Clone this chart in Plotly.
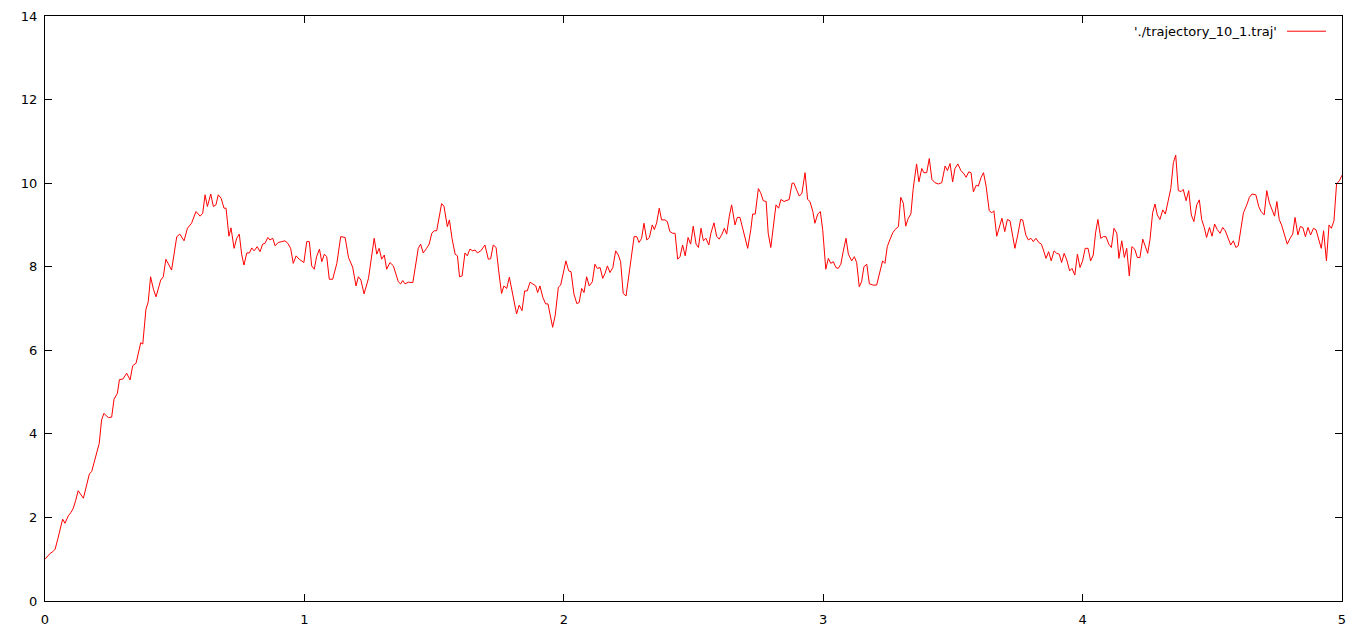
import plotly.graph_objects as go

t = [0.000, 0.010, 0.020, 0.030, 0.039, 0.050, 0.060, 0.068, 0.077, 0.090, 0.100, 0.109, 0.118, 0.128,
     0.148, 0.160, 0.171, 0.180, 0.190, 0.200, 0.209, 0.218, 0.227, 0.244, 0.257, 0.266, 0.279, 0.287,
     0.300, 0.315, 0.328, 0.338, 0.351, 0.369, 0.377, 0.389, 0.398, 0.407, 0.418, 0.428, 0.446, 0.456,
     0.466, 0.488, 0.508, 0.520, 0.536, 0.549, 0.565, 0.582, 0.598,
     0.608, 0.617, 0.626, 0.639, 0.649, 0.659, 0.668, 0.679, 0.690, 0.698, 0.709, 0.717, 0.729, 0.739,
     0.749, 0.758, 0.767, 0.778, 0.788, 0.797, 0.806, 0.818, 0.829, 0.839, 0.848, 0.859, 0.867, 0.878,
     0.887, 0.899, 0.912, 0.925, 0.936, 0.947, 0.957, 0.968, 0.980, 0.990, 0.998, 1.009, 1.019, 1.028,
     1.038, 1.047, 1.058, 1.067, 1.077, 1.086, 1.096, 1.109, 1.125, 1.140, 1.157, 1.170, 1.186, 1.199,
     1.208, 1.218, 1.230, 1.247, 1.258, 1.269, 1.279, 1.288, 1.298, 1.308, 1.317, 1.330, 1.343, 1.353,
     1.362, 1.371, 1.379, 1.388, 1.401, 1.418, 1.430, 1.439, 1.448, 1.458, 1.471, 1.481, 1.491, 1.500,
     1.510, 1.519, 1.529, 1.538, 1.551, 1.559, 1.569, 1.581, 1.590, 1.598, 1.608, 1.619, 1.628, 1.638,
     1.649, 1.658, 1.667, 1.680, 1.696, 1.709, 1.718, 1.728, 1.739, 1.749, 1.760, 1.769, 1.780, 1.790,
     1.800, 1.818, 1.828, 1.839, 1.849, 1.859, 1.870, 1.882, 1.892, 1.899, 1.908, 1.919, 1.930, 1.939,
     1.957, 1.967, 1.979, 1.988, 1.998, 2.008, 2.019, 2.028, 2.039, 2.050, 2.059, 2.069, 2.078, 2.088,
     2.098, 2.110, 2.120, 2.129, 2.140, 2.150, 2.159, 2.168, 2.178, 2.189, 2.200, 2.210, 2.219, 2.229,
     2.240, 2.253, 2.262, 2.271, 2.281, 2.290, 2.300, 2.309, 2.320, 2.330, 2.341, 2.349, 2.358, 2.368,
     2.377, 2.390, 2.399, 2.409, 2.420, 2.429, 2.439, 2.448, 2.458, 2.468, 2.479, 2.489, 2.499, 2.510,
     2.519, 2.529, 2.538, 2.548, 2.559, 2.567, 2.579, 2.589, 2.599, 2.610, 2.619, 2.628, 2.638, 2.647,
     2.660, 2.669, 2.679, 2.692, 2.709, 2.721, 2.728, 2.738, 2.750, 2.759, 2.769, 2.780, 2.788, 2.798,
     2.808, 2.818, 2.828, 2.837, 2.849, 2.859, 2.869, 2.880, 2.887, 2.898, 2.908, 2.918, 2.930, 2.940,
     2.949, 2.960, 2.968, 2.979, 2.989, 2.998, 3.010, 3.020, 3.029, 3.039, 3.049, 3.058, 3.068, 3.077,
     3.088, 3.097, 3.110, 3.120, 3.129, 3.139, 3.148, 3.157, 3.168, 3.178, 3.193, 3.206, 3.219, 3.229,
     3.238, 3.247, 3.258, 3.268, 3.277, 3.290, 3.299, 3.309, 3.318, 3.328, 3.338, 3.347, 3.360, 3.369,
     3.380, 3.388, 3.399, 3.409, 3.419, 3.431, 3.444, 3.457, 3.470, 3.479, 3.489, 3.499, 3.508, 3.519,
     3.531, 3.543, 3.551, 3.561, 3.570, 3.579, 3.590, 3.598, 3.609, 3.618, 3.628, 3.640, 3.650, 3.658,
     3.669, 3.679, 3.689, 3.700, 3.710, 3.720, 3.730, 3.739, 3.750, 3.761, 3.769, 3.781, 3.791, 3.801,
     3.810, 3.820, 3.831, 3.841, 3.849, 3.859, 3.869, 3.879, 3.890, 3.900, 3.910, 3.919, 3.929, 3.939,
     3.950, 3.959, 3.970, 3.980, 3.990, 4.000, 4.010, 4.021, 4.031, 4.041, 4.050, 4.059, 4.070, 4.080,
     4.090, 4.101, 4.111, 4.121, 4.132, 4.140, 4.151, 4.161, 4.170, 4.180, 4.190, 4.201, 4.211, 4.221,
     4.232, 4.240, 4.251, 4.260, 4.270, 4.279, 4.288, 4.298, 4.309, 4.319, 4.331, 4.340, 4.350, 4.359,
     4.369, 4.380, 4.388, 4.399, 4.409, 4.419, 4.429, 4.440, 4.450, 4.459, 4.469, 4.478, 4.489, 4.499,
     4.509, 4.519, 4.530, 4.540, 4.550, 4.560, 4.571, 4.581, 4.591, 4.600, 4.611, 4.620, 4.633, 4.643,
     4.653, 4.668, 4.679, 4.688, 4.700, 4.710, 4.720, 4.730, 4.740, 4.749, 4.758, 4.767, 4.778, 4.789,
     4.800, 4.810, 4.819, 4.830, 4.839, 4.849, 4.859, 4.869, 4.879, 4.890, 4.900, 4.910, 4.920, 4.929,
     4.940, 4.950, 4.959, 4.969, 4.979, 4.990, 5.000]

traj = [1.00, 1.08, 1.14, 1.18, 1.24, 1.50, 1.78, 1.96, 1.86, 2.04, 2.12, 2.22, 2.40, 2.64,
        2.46, 2.80, 3.04, 3.10, 3.35, 3.55, 3.77, 4.33, 4.49, 4.39, 4.40, 4.83, 4.97, 5.30,
        5.31, 5.45, 5.29, 5.63, 5.69, 6.18, 6.15, 6.98, 7.16, 7.76, 7.46, 7.28, 7.68, 7.76,
        8.18, 7.92, 8.72, 8.78, 8.62, 8.92, 9.04, 9.32, 9.21,
        9.28, 9.72, 9.44, 9.74, 9.44, 9.48, 9.72, 9.64, 9.40, 9.40, 8.73, 8.93, 8.44, 8.68,
        8.78, 8.30, 8.04, 8.33, 8.33, 8.45, 8.38, 8.48, 8.36, 8.54, 8.56, 8.70, 8.64, 8.68,
        8.50, 8.58, 8.60, 8.62, 8.56, 8.44, 8.08, 8.26, 8.18, 8.14, 8.10, 8.60, 8.60, 8.02,
        7.94, 8.24, 8.42, 8.12, 8.30, 8.24, 7.70, 7.70, 8.08, 8.72, 8.70, 8.22, 7.99, 7.54,
        7.76, 7.68, 7.35, 7.72, 8.20, 8.68, 8.30, 8.44, 8.18, 8.28, 7.94, 8.10, 8.02, 7.84,
        7.64, 7.59, 7.67, 7.59, 7.63, 7.62, 8.08, 8.44, 8.54, 8.33, 8.44, 8.54, 8.80, 8.86,
        8.86, 9.13, 9.51, 9.45, 8.96, 9.12, 8.68, 8.30, 8.26, 7.76, 7.78, 8.33, 8.26, 8.42,
        8.38, 8.40, 8.33, 8.38, 8.52, 8.18, 8.19, 8.52, 8.46, 7.90, 7.36, 7.54, 7.48, 7.75,
        7.44, 6.87, 7.08, 6.95, 7.42, 7.42, 7.63, 7.59, 7.54, 7.38, 7.54, 7.27, 7.11, 7.11,
        6.55, 6.84, 7.51, 7.56, 7.88, 8.14, 7.90, 7.88, 7.35, 7.12, 7.14, 7.48, 7.38, 7.76,
        7.54, 7.64, 8.06, 7.96, 7.98, 7.72, 7.84, 8.02, 7.86, 7.98, 8.38, 8.28, 8.12, 7.36,
        7.30, 7.90, 8.36, 8.72, 8.72, 8.58, 8.68, 9.04, 8.64, 8.70, 9.00, 8.89, 9.05, 9.40,
        9.12, 9.12, 9.08, 8.84, 8.80, 8.80, 8.18, 8.24, 8.52, 8.26, 8.70, 8.54, 8.97, 8.54,
        8.46, 8.92, 8.62, 8.68, 8.52, 8.80, 9.05, 8.73, 8.66, 8.78, 8.92, 8.78, 9.21, 9.48,
        9.00, 9.18, 9.18, 8.84, 8.44, 8.89, 9.26, 9.26, 9.87, 9.77, 9.58, 9.56, 8.80, 8.46,
        9.00, 9.48, 9.40, 9.61, 9.56, 9.58, 9.61, 10.00, 10.00, 9.83, 9.69, 9.76, 10.25, 9.61,
        9.56, 9.32, 9.04, 9.26, 9.32, 8.89, 7.94, 8.20, 8.08, 8.12, 7.98, 7.96, 8.06, 8.36,
        8.68, 8.30, 8.14, 8.24, 8.10, 7.52, 7.64, 8.00, 8.06, 7.59, 7.56, 7.56, 7.88, 8.14,
        8.08, 8.48, 8.66, 8.81, 8.89, 8.96, 9.66, 9.52, 8.97, 9.16, 9.26, 9.87, 10.46, 10.03,
        10.35, 10.25, 10.25, 10.59, 10.09, 10.01, 9.98, 10.01, 10.41, 10.30, 10.47, 10.03, 10.35, 10.46,
        10.30, 10.22, 10.14, 10.27, 10.25, 9.79, 9.95, 9.93, 10.14, 10.25, 9.93, 9.34, 9.29, 9.34,
        8.73, 8.94, 9.16, 8.84, 9.13, 9.10, 8.76, 8.44, 8.76, 9.13, 9.12, 8.76, 8.64, 8.68,
        8.60, 8.68, 8.58, 8.54, 8.40, 8.20, 8.36, 8.14, 8.38, 8.32, 8.30, 8.10, 8.32, 8.16,
        7.90, 7.96, 7.80, 8.30, 7.98, 8.14, 8.44, 8.44, 8.14, 8.28, 8.81, 9.13, 8.68, 8.72,
        8.72, 8.54, 8.46, 8.92, 8.80, 8.20, 8.62, 8.22, 8.44, 7.78, 8.48, 8.42, 8.22, 8.22,
        8.66, 8.52, 8.32, 8.66, 9.29, 9.50, 9.24, 9.13, 9.36, 9.26, 9.58, 9.87, 10.49, 10.67,
        9.82, 9.80, 9.85, 9.58, 9.82, 9.24, 9.08, 9.48, 9.60, 9.13, 8.94, 8.70, 8.94, 8.73,
        9.02, 8.89, 8.80, 8.94, 8.86, 8.68, 8.52, 8.62, 8.46, 8.50, 8.94, 9.29, 9.48, 9.66,
        9.74, 9.72, 9.44, 9.32, 9.24, 9.82, 9.53, 9.37, 9.21, 9.56, 9.13, 9.00, 8.78, 8.54,
        8.68, 8.78, 9.18, 8.76, 8.96, 8.94, 8.72, 8.94, 8.76, 8.92, 8.88, 8.66, 8.44, 8.86,
        8.14, 9.00, 8.92, 9.10, 9.98, 10.06, 10.19]

x_ticks = [0, 1, 2, 3, 4, 5]
y_ticks = [0, 2, 4, 6, 8, 10, 12, 14]
legend_label = "'./trajectory_10_1.traj'"

fig = go.Figure()
fig.add_trace(go.Scatter(x=t, y=traj, mode="lines",
                         line=dict(color="#ff0000", width=1),
                         name=legend_label, showlegend=False, hoverinfo="skip"))

axis_common = dict(showgrid=False, zeroline=False, showline=True, linecolor="black",
                   linewidth=1, mirror="allticks", ticks="inside", ticklen=7,
                   tickcolor="black", tickwidth=1, automargin=False,
                   tickfont=dict(family="DejaVu Sans", size=13, color="black"))

fig.update_layout(
    template="none",
    width=1366, height=636,
    margin=dict(l=45, r=24, t=16, b=35, pad=0),
    paper_bgcolor="white", plot_bgcolor="white",
    xaxis=dict(range=[0, 5], tickvals=x_ticks, ticktext=[str(v) for v in x_ticks], **axis_common),
    yaxis=dict(range=[0, 14], tickvals=y_ticks, ticktext=[str(v) for v in y_ticks], **axis_common),
    annotations=[dict(x=0.9514, y=0.974, xref="paper", yref="paper", text=legend_label,
                      showarrow=False, xanchor="right", yanchor="middle",
                      font=dict(family="DejaVu Sans", size=13, color="black"))],
    shapes=[dict(type="line", xref="paper", yref="paper", x0=0.9576, x1=0.9877,
                 y0=0.974, y1=0.974, line=dict(color="#ff0000", width=1))],
)
fig.update_xaxes(ticklabelstandoff=6)
fig.update_yaxes(ticklabelstandoff=4)

fig.write_html("out.html", config={"displayModeBar": False},
               post_script="document.body.style.margin='0px';document.body.style.overflow='hidden';")
